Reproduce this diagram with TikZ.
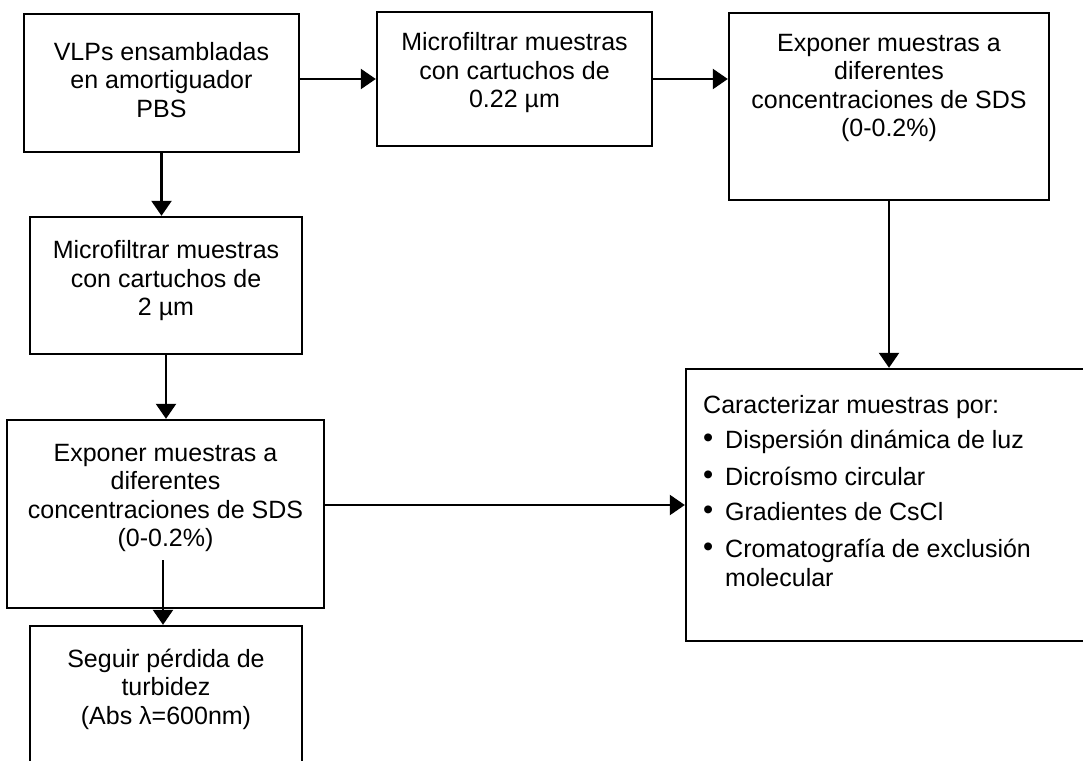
\documentclass[tikz,border=0pt]{standalone}
\usepackage{fontspec}
\setmainfont{Liberation Sans}
\usetikzlibrary{arrows.meta}
\begin{document}
\begin{tikzpicture}[
    x=1pt, y=-1pt,
    stage/.style={draw, line width=2.4pt, inner sep=0pt},
    stagetext/.style={align=center, inner sep=0pt, font=\fontsize{25}{28.5}\selectfont},
    arrow/.style={-{Triangle[length=15pt, width=20pt]}, line width=2.4pt}
]
\useasboundingbox (0,0) rectangle (1083,760);
\clip (0,0) rectangle (1083,760);

% top row
\node[stage, minimum width=275pt, minimum height=138pt] (vlps_box) at (161.5,83) {};
\node[stagetext] (vlps_txt) at (161.5,80) {VLPs ensambladas\\en amortiguador\\PBS};
\node[stage, minimum width=275pt, minimum height=134pt] (filt22_box) at (514.5,79) {};
\node[stagetext] (filt22_txt) at (514.5,73) {Microfiltrar muestras\\con cartuchos de\\0.22 µm};
\node[stage, minimum width=320pt, minimum height=187pt] (expo_top_box) at (889,106.5) {};
\node[stagetext] (expo_top_txt) at (889,88) {Exponer muestras a\\diferentes\\concentraciones de SDS\\(0-0.2\%)};

% left column
\node[stage, minimum width=272pt, minimum height=137pt] (filt2_box) at (166,285.5) {};
\node[stagetext] (filt2_txt) at (166,281) {Microfiltrar muestras\\con cartuchos de\\2 µm};
\node[stage, minimum width=317pt, minimum height=188pt] (expo_low_box) at (165.5,514) {};
\node[stagetext] (expo_low_txt) at (165.5,498) {Exponer muestras a\\diferentes\\concentraciones de SDS\\(0-0.2\%)};
\node[stage, minimum width=272pt, minimum height=164pt] (turb_box) at (166,708) {};
\node[stagetext] (turb_txt) at (166,689) {Seguir pérdida de\\turbidez\\(Abs λ=600nm)};

% characterisation
\node[stage, minimum width=414pt, minimum height=272pt] (carac_box) at (893,505) {};
\node[stagetext, align=left, anchor=west] (carac_txt) at (703,491) {Caracterizar muestras por:\\[7pt]
\makebox[22pt][l]{\raisebox{1pt}{\fontsize{29}{28}\selectfont•}}Dispersión dinámica de luz\\[8pt]
\makebox[22pt][l]{\raisebox{1pt}{\fontsize{29}{28}\selectfont•}}Dicroísmo circular\\[7pt]
\makebox[22pt][l]{\raisebox{1pt}{\fontsize{29}{28}\selectfont•}}Gradientes de CsCl\\[8pt]
\makebox[22pt][l]{\raisebox{1pt}{\fontsize{29}{28}\selectfont•}}Cromatografía de exclusión\\[1pt]
\hspace*{22pt}molecular};

% connectors
\draw[arrow] (vlps_box.east |- filt22_box.west) -- (filt22_box.west);
\draw[arrow] (filt22_box.east) -- (filt22_box.east -| expo_top_box.west);
\draw[arrow] (expo_top_box.south) -- (expo_top_box.south |- carac_box.north);
\draw[arrow] (vlps_box.south) -- (vlps_box.south |- filt2_box.north);
\draw[arrow] (filt2_box.south) -- (filt2_box.south |- expo_low_box.north);
\draw[arrow] (expo_low_box.east |- carac_box.west) -- (carac_box.west);
\coordinate (turb_tail) at (163,560);
\draw[arrow] (turb_tail) -- (turb_tail |- turb_box.north);
\end{tikzpicture}
\end{document}
